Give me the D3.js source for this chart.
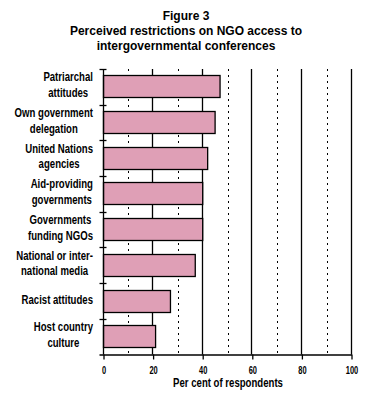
<!DOCTYPE html>
<html>
<head>
<meta charset="utf-8">
<script src="https://cdn.jsdelivr.net/npm/d3@7"></script>
<style>
  body { margin: 0; background: #fff; }
  text { fill: #000; }
</style>
</head>
<body>
<div id="chart-area"></div>
<script>

// chart data
const titleLines = ["Figure 3", "Perceived restrictions on NGO access to", "intergovernmental conferences"];
const categories = [
    ["Patriarchal", "attitudes"],
    ["Own government", "delegation"],
    ["United Nations", "agencies"],
    ["Aid-providing", "governments"],
    ["Governments", "funding NGOs"],
    ["National or inter-", "national media"],
    ["Racist attitudes"],
    ["Host country", "culture"]
];
const values = [47, 45, 42, 40, 40, 37, 27, 21];
const xTicks = [0, 20, 40, 60, 80, 100];
const xMinorTicks = [10, 30, 50, 70, 90];
const xLabel = "Per cent of respondents";


class BarChart {

constructor(parentElement) {
    this.parentElement = parentElement;
}

	initVis(){
		let vis = this;

		vis.width = 372;
		vis.height = 411;

		vis.svg = d3.select("#" + vis.parentElement).append("svg")
			.attr("width", vis.width)
			.attr("height", vis.height);

		// plot box (pixels)
		vis.left = 103.5;
		vis.right = 351.5;
		vis.top = 69;
		vis.bottom = 354.5;

		// the original font is a condensed bold face, so squeeze it horizontally
		vis.squeeze = 0.8;
		vis.font = "'Liberation Sans', Arial, sans-serif";

		vis.x = d3.scaleLinear()
			.domain([0, 100])
			.range([vis.left, vis.right]);

		vis.y = d3.scaleBand()
			.domain(d3.range(categories.length))
			.range([vis.top, vis.bottom])
			.padding(0);

		vis.updateVis();
	}

	updateVis(){
		let vis = this;

		// title
		vis.svg.selectAll(".title")
			.data(titleLines)
			.enter().append("text")
			.attr("class", "title")
			.attr("x", 186)
			.attr("y", (d, i) => 20 + i * 15)
			.attr("text-anchor", "middle")
			.style("font-family", vis.font)
			.style("font-weight", "bold")
			.style("font-size", "12px")
			.text(d => d);

		// grid lines
		vis.svg.selectAll(".grid-minor")
			.data(xMinorTicks)
			.enter().append("line")
			.attr("class", "grid-minor")
			.attr("x1", d => Math.round(vis.x(d)) + 0.5)
			.attr("x2", d => Math.round(vis.x(d)) + 0.5)
			.attr("y1", vis.top)
			.attr("y2", vis.bottom)
			.attr("stroke", "#000")
			.attr("stroke-width", 1)
			.attr("stroke-dasharray", "2,4");

		vis.svg.selectAll(".grid-major")
			.data(xTicks.filter(d => d > 0))
			.enter().append("line")
			.attr("class", "grid-major")
			.attr("x1", d => Math.round(vis.x(d)) - 0.5)
			.attr("x2", d => Math.round(vis.x(d)) - 0.5)
			.attr("y1", vis.top)
			.attr("y2", vis.bottom)
			.attr("stroke", "#000")
			.attr("stroke-width", 1.3);

		// bars
		const bw = vis.y.bandwidth();
		vis.svg.selectAll(".bar")
			.data(values)
			.enter().append("rect")
			.attr("class", "bar")
			.attr("x", vis.x(0))
			.attr("y", (d, i) => Math.round(vis.y(i) + bw * 0.18) + 0.5)
			.attr("width", d => vis.x(d) - vis.x(0))
			.attr("height", Math.round(bw * 0.61))
			.attr("fill", "#df9fb6")
			.attr("stroke", "#000")
			.attr("stroke-width", 1.3);

		// y axis line + ticks at band boundaries
		vis.svg.append("line")
			.attr("x1", vis.left).attr("x2", vis.left)
			.attr("y1", vis.top).attr("y2", vis.bottom)
			.attr("stroke", "#000").attr("stroke-width", 1.3);

		const bounds = d3.range(categories.length).map(i => vis.y(i));
		vis.svg.selectAll(".ytick")
			.data(bounds)
			.enter().append("line")
			.attr("class", "ytick")
			.attr("x1", vis.left - 4).attr("x2", vis.left + 3)
			.attr("y1", d => Math.round(d) + 0.5)
			.attr("y2", d => Math.round(d) + 0.5)
			.attr("stroke", "#000").attr("stroke-width", 1.3);

		// x axis
		const xAxis = d3.axisBottom(vis.x)
			.tickValues(xTicks)
			.tickSize(5)
			.tickPadding(7)
			.tickFormat(d3.format("d"));

		const gx = vis.svg.append("g")
			.attr("class", "x-axis")
			.attr("transform", "translate(0," + vis.bottom + ")")
			.call(xAxis);
		gx.select(".domain")
			.attr("d", "M" + (vis.left - 4) + ",0.5H" + (vis.right + 0.5))
			.attr("stroke-width", 1.3);
		gx.selectAll(".tick line").attr("stroke-width", 1.3);
		gx.selectAll(".tick text")
			.attr("transform", "scale(" + (vis.squeeze * 0.85) + ",1)")
			.style("font-family", vis.font)
			.style("font-weight", "bold")
			.style("font-size", "11px")
			.style("fill", "#000");

		vis.svg.append("text")
			.attr("transform", "translate(228,387) scale(" + vis.squeeze + ",1)")
			.attr("text-anchor", "middle")
			.style("font-family", vis.font)
			.style("font-weight", "bold")
			.style("font-size", "12px")
			.text(xLabel);

		// category labels: lines centred on each other, block right-aligned at x=93
		categories.forEach((lines, i) => {
			const cy = vis.y(i) + bw / 2;
			const g = vis.svg.append("g").attr("class", "cat-label");
			const texts = lines.map((line, j) => g.append("text")
				.attr("text-anchor", "middle")
				.style("font-family", vis.font)
				.style("font-weight", "bold")
				.style("font-size", "12px")
				.text(line));
			const maxW = d3.max(texts, t => t.node().getComputedTextLength()) * vis.squeeze;
			texts.forEach((t, j) => {
				const ty = lines.length === 1 ? cy + 3.5 : cy - 5.5 + j * 15.5;
				t.attr("transform", "translate(" + (93 - maxW / 2) + "," + ty + ") scale(" + vis.squeeze + ",1)");
			});
		});
	}
}

let chart = new BarChart("chart-area");
chart.initVis();

</script>
</body>
</html>
